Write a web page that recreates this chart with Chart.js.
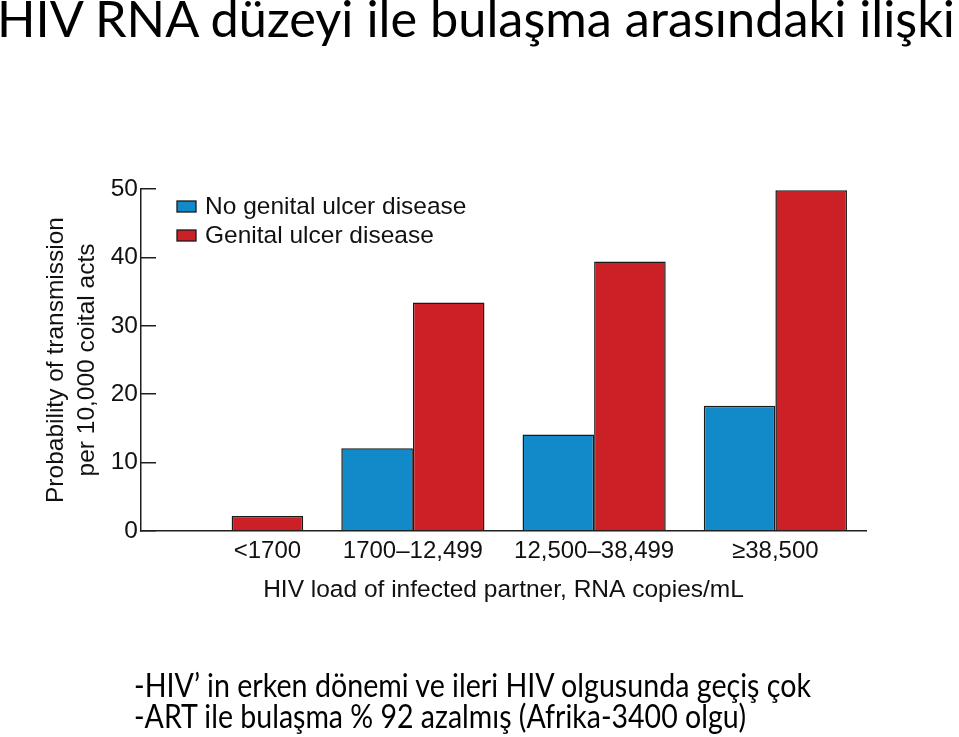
<!DOCTYPE html>
<html>
<head>
<meta charset="utf-8">
<script src="https://cdn.jsdelivr.net/npm/chart.js@4.4.1/dist/chart.umd.min.js"></script>
<style>
html,body{margin:0;padding:0;background:#fff;width:959px;height:737px;overflow:hidden;}
#wrap{position:absolute;left:0;top:0;width:959px;height:737px;}
.slide{position:absolute;white-space:nowrap;font-family:Lato,"Open Sans",sans-serif;color:#000;transform-origin:0 0;line-height:1;}
</style>
</head>
<body>
<div id="wrap"><canvas id="c"></canvas></div>
<div id="title" class="slide" style="left:-3px;top:-7px;font-size:50px" data-w="958">HIV RNA düzeyi ile bulaşma arasındaki ilişki</div>
<div id="l1" class="slide" style="left:134px;top:668px;font-size:33px" data-w="677">-HIV’ in erken dönemi ve ileri HIV olgusunda geçiş çok</div>
<div id="l2" class="slide" style="left:134px;top:699px;font-size:33px" data-w="612">-ART ile bulaşma % 92 azalmış (Afrika-3400 olgu)</div>
<script>
// ---- data ----
const categories = ['<1700', '1700–12,499', '12,500–38,499', '≥38,500'];
const seriesNames = ['No genital ulcer disease', 'Genital ulcer disease'];
const noUlcerValues = [null, 12.1, 14.1, 18.3];
const ulcerValues = [2.2, 33.4, 39.4, 49.8];
const yTickValues = [0, 10, 20, 30, 40, 50];
const yTitle = ['Probability of transmission', 'per 10,000 coital acts'];
const xTitle = 'HIV load of infected partner, RNA copies/mL';

// fit slide text widths
document.querySelectorAll('.slide').forEach(el => {
  const w = el.getBoundingClientRect().width;
  el.style.transform = 'scaleX(' + (parseFloat(el.dataset.w) / w) + ')';
});

const FONT = '"Liberation Sans", Arial, Helvetica, sans-serif';
const TXT = '#111';
const AX = '#1e1e1e';

const insideLegend = {
  id: 'insideLegend',
  afterDatasetsDraw(chart) {
    const {ctx, chartArea} = chart;
    ctx.save();
    ctx.font = '24.5px ' + FONT;
    ctx.textBaseline = 'middle';
    ctx.textAlign = 'left';
    chart.data.datasets.forEach((ds, i) => {
      const y = chartArea.top + 17.5 + i * 29;
      const x = chartArea.left + 36;
      ctx.fillStyle = ds.backgroundColor;
      ctx.fillRect(x, y - 5.5, 19, 11);
      ctx.strokeStyle = '#1a1a1a';
      ctx.lineWidth = 1.3;
      ctx.strokeRect(x, y - 5.5, 19, 11);
      ctx.fillStyle = TXT;
      ctx.fillText(ds.label, x + 28, y + 1);
    });
    ctx.restore();
  }
};

// center each category label under the bars actually drawn in it
const labelUnderBars = {
  id: 'labelUnderBars',
  beforeDraw(chart) {
    const sx = chart.scales.x;
    const items = sx.getLabelItems();
    categories.forEach((c, i) => {
      const xs = [];
      chart.data.datasets.forEach((ds, d) => {
        if (ds.data[i] != null) xs.push(chart.getDatasetMeta(d).data[i].x);
      });
      if (items[i] && xs.length) {
        items[i].options.translation[0] = (Math.min(...xs) + Math.max(...xs)) / 2;
      }
    });
  }
};

new Chart(document.getElementById('c'), {
  type: 'bar',
  data: {
    labels: categories,
    datasets: [
      {label: seriesNames[0], data: noUlcerValues, backgroundColor: 'rgb(18,137,201)', borderColor: '#1a1a1a', borderWidth: 1.5},
      {label: seriesNames[1], data: ulcerValues, backgroundColor: 'rgb(204,32,39)', borderColor: '#1a1a1a', borderWidth: 1.5}
    ]
  },
  options: {
    responsive: true,
    maintainAspectRatio: false,
    animation: false,
    events: [],
    layout: {padding: {top: 189, right: 93, bottom: 0, left: 0}},
    datasets: {bar: {categoryPercentage: 0.79, barPercentage: 1.0}},
    plugins: {legend: {display: false}, tooltip: {enabled: false}, title: {display: false}},
    scales: {
      x: {
        grid: {display: false, drawTicks: false},
        border: {display: true, color: AX, width: 1.5},
        ticks: {color: TXT, font: {family: FONT, size: 24}, padding: 6, maxRotation: 0, autoSkip: false},
        title: {display: true, text: xTitle, color: TXT, font: {family: FONT, size: 24.5, lineHeight: 1.2}, padding: {top: 0, bottom: 132}},
        afterFit(s) { s.height = 206; }
      },
      y: {
        min: yTickValues[0],
        max: yTickValues[yTickValues.length - 1],
        afterBuildTicks(s) { s.ticks = yTickValues.map(v => ({value: v})); },
        grid: {display: true, drawOnChartArea: false, drawTicks: true, tickLength: -15, color: AX, lineWidth: 1.5},
        border: {display: true, color: AX, width: 1.5},
        ticks: {color: TXT, font: {family: FONT, size: 24.5}, padding: 18},
        title: {display: true, text: yTitle, color: TXT, font: {family: FONT, size: 24.5, lineHeight: 1.27}, padding: {top: 41, bottom: 0}},
        afterFit(s) { s.width = 141; }
      }
    }
  },
  plugins: [insideLegend, labelUnderBars]
});
</script>
</body>
</html>
